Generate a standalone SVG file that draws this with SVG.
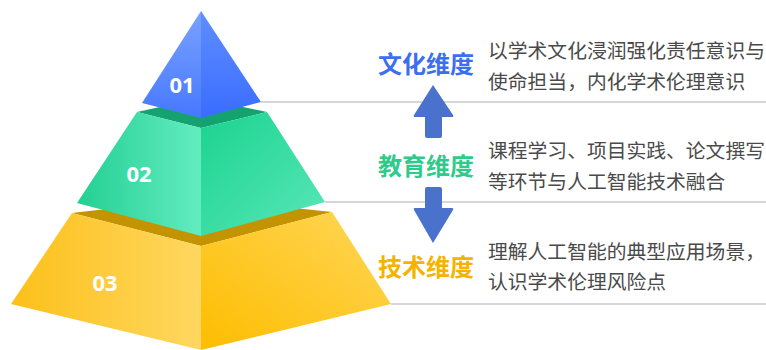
<svg xmlns="http://www.w3.org/2000/svg" width="766" height="350" viewBox="0 0 766 350">
<defs>
<style>
.num{font-family:"Open Sans","Noto Sans",sans-serif;font-weight:700;font-size:22px;fill:#fff;text-anchor:middle}
.lbl{font-family:"Noto Sans CJK SC","Noto Sans",sans-serif;font-weight:700;font-size:24px}
.desc{font-family:"Noto Sans CJK SC","Noto Sans",sans-serif;font-size:19.8px;fill:#4a4a4a}
.rule{stroke:#c9c9c9;stroke-width:1.5;fill:none}
.arr{fill:#4a72cc}
</style>
<linearGradient id="bL" x1="0" y1="0" x2="0" y2="1"><stop offset="0" stop-color="#7aa2ff"/><stop offset="1" stop-color="#4678ff"/></linearGradient>
<linearGradient id="bR" x1="0" y1="0" x2="0" y2="1"><stop offset="0" stop-color="#5f8eff"/><stop offset="1" stop-color="#3a6cff"/></linearGradient>
<linearGradient id="gL" x1="0" y1="0" x2="1" y2="0"><stop offset="0" stop-color="#24cf93"/><stop offset="1" stop-color="#62ecc0"/></linearGradient>
<linearGradient id="gR" x1="0" y1="0" x2="1" y2="1"><stop offset="0" stop-color="#1bd390"/><stop offset="1" stop-color="#5ae7b9"/></linearGradient>
<linearGradient id="yL" x1="0" y1="0" x2="1" y2="0"><stop offset="0" stop-color="#fcc01a"/><stop offset="1" stop-color="#ffd760"/></linearGradient>
<linearGradient id="yR" x1="0" y1="1" x2="1" y2="0"><stop offset="0" stop-color="#fdbd00"/><stop offset="1" stop-color="#ffd658"/></linearGradient>
</defs>
<rect width="766" height="350" fill="#fff"/>
<g id="connectors">
<line class="rule" x1="261" y1="102" x2="766" y2="102"/>
<line class="rule" x1="325" y1="202" x2="766" y2="202"/>
<line class="rule" x1="391" y1="304" x2="766" y2="304"/>
<path class="arr" d="M433 85 L453 115 Q454 117 452 117 L442 117 L442 136 Q442 138 440 138 L427 138 Q425 138 425 136 L425 117 L415 117 Q413 117 414 115 Z"/>
<path class="arr" d="M433 243 L453 210 Q454 208 452 208 L442 208 L442 189 Q442 187 440 187 L427 187 Q425 187 425 189 L425 208 L415 208 Q413 208 414 210 Z"/>
</g>
<g id="tier3">
<polygon points="72,213 201,198 332,212 201,246" fill="#c49300"/>
<polygon points="72,213 201,246 201,350 11,304" fill="url(#yL)"/>
<polygon points="201,246 332,212 391,304 201,350" fill="url(#yR)"/>
<text class="num" x="105" y="291">03</text>
</g>
<g id="tier2">
<polygon points="137,112 201,98 267,112 201,128" fill="#14a270"/>
<polygon points="137,112 201,128 201,236 77,203" fill="url(#gL)"/>
<polygon points="201,128 267,112 325,202 201,236" fill="url(#gR)"/>
<text class="num" x="139" y="182">02</text>
</g>
<g id="tier1">
<polygon points="201,11 142,103 201,118" fill="url(#bL)"/>
<polygon points="201,11 261,102 201,118" fill="url(#bR)"/>
<text class="num" x="182" y="93">01</text>
</g>
<g id="culture">
<text class="lbl" x="378" y="73" fill="#3b6ef0">文化维度</text>
<text class="desc" x="488" y="58">以学术文化浸润强化责任意识与</text>
<text class="desc" x="488" y="89">使命担当，内化学术伦理意识</text>
</g>
<g id="education">
<text class="lbl" x="378" y="175" fill="#2ecb8b">教育维度</text>
<text class="desc" x="488" y="158">课程学习、项目实践、论文撰写</text>
<text class="desc" x="488" y="189">等环节与人工智能技术融合</text>
</g>
<g id="technology">
<text class="lbl" x="378" y="276" fill="#f5b300">技术维度</text>
<text class="desc" x="488" y="259">理解人工智能的典型应用场景，</text>
<text class="desc" x="488" y="289">认识学术伦理风险点</text>
</g>
</svg>
